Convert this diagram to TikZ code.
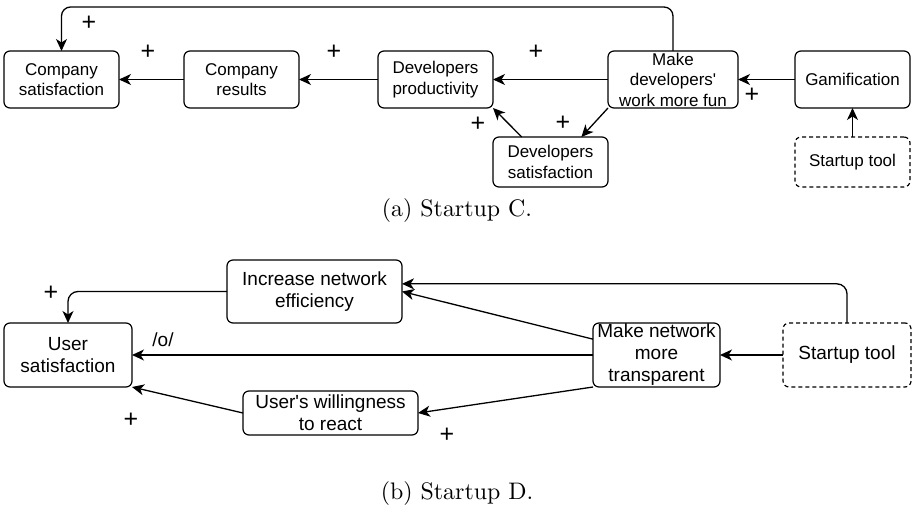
\documentclass[tikz,border=0pt]{standalone}
\usepackage{fontspec}
\newfontfamily\dio{Liberation Sans}[Ligatures=TeXOff]
\newfontfamily\capfont{lmroman10-regular.otf}
\usetikzlibrary{arrows.meta}
\begin{document}
\begin{tikzpicture}[x=1pt,y=-1pt,
  every node/.style={inner sep=0pt, outer sep=0pt},
  box/.style={draw, line width=1.2pt, rounded corners=6pt, align=center},
  boxa/.style={box, font=\dio\fontsize{17}{20.5}\selectfont},
  boxb/.style={box, font=\dio\fontsize{19}{22}\selectfont},
  tool/.style={dashed, dash pattern=on 4pt off 3pt},
  conn/.style={line width=1.3pt, -{Stealth[length=12pt,width=11pt,inset=3.5pt]}},
  sign/.style={font=\dio\fontsize{25}{25}\selectfont},
  lbl/.style={font=\dio\fontsize{19}{22}\selectfont},
  capt/.style={font=\capfont\fontsize{23.9}{28}\selectfont}]
\useasboundingbox (0,0) rectangle (912,508);

% ---- (a) Startup C ----
\node[boxa, minimum width=115, minimum height=57] (cs) at (61.5,79.5) {Company\\satisfaction};
\node[boxa, minimum width=115, minimum height=57] (cr) at (241.5,79.5) {Company\\results};
\node[boxa, minimum width=115, minimum height=57] (dp) at (435.5,79.5) {Developers\\productivity};
\node[boxa, minimum width=130, minimum height=57] (mk) at (673,79.5) {Make\\developers'\\work more fun};
\node[boxa, minimum width=115, minimum height=57] (gm) at (852.5,79.5) {Gamification};
\node[boxa, tool, minimum width=115, minimum height=50] (st1) at (852.5,162) {Startup tool};
\node[boxa, minimum width=115, minimum height=50] (ds) at (550.5,162) {Developers\\satisfaction};
\coordinate (topa) at (0,7);

\draw[conn, rounded corners=9pt] (mk.north) -- (mk.north |- topa) -| (cs.north);
\draw[conn] (cr.west) -- (cs.east);
\draw[conn] (dp.west) -- (cr.east);
\draw[conn] (mk.west) -- (dp.east);
\draw[conn] (gm.west) -- (mk.east);
\draw[conn] (st1.north) -- (gm.south);
\draw[conn] (mk.south west) -- (ds.39);
\draw[conn] (ds.139) -- (dp.south east);

\node[sign] (pa1) at (89,23) {+};
\node[sign] (pa2) at (148,52) {+};
\node[sign] (pa3) at (334,52) {+};
\node[sign] (pa4) at (536,52) {+};
\node[sign] (pa5) at (752,95) {+};
\node[sign] (pa6) at (478,124) {+};
\node[sign] (pa7) at (563,123) {+};

\node[capt] (capa) at (457,211) {(a) Startup C.};

% ---- (b) Startup D ----
\node[boxb, minimum width=175, minimum height=63] (inc) at (314.5,291.5) {Increase network\\efficiency};
\node[boxb, minimum width=128, minimum height=64] (us) at (68,355) {User\\satisfaction};
\node[boxb, minimum width=175, minimum height=44] (wil) at (330.5,413) {User's willingness\\to react};
\node[boxb, minimum width=127, minimum height=64] (mn) at (656.5,355) {Make network\\more\\transparent};
\node[boxb, tool, minimum width=128, minimum height=64] (st2) at (847,355) {Startup tool};

\draw[conn, rounded corners=10pt] (inc.west) -| (us.north);
\draw[conn] (mn.west) -- (us.east);
\draw[conn] (wil.west) -- (us.south east);
\draw[conn] (mn.south west) -- (wil.east);
\draw[conn] (mn.166) -- (inc.east);
\draw[conn, rounded corners=10pt] (st2.north) |- (inc.5);
\draw[conn] (st2.west) -- (mn.east);

\node[sign] (pb1) at (51,293) {+};
\node[lbl] (pb2) at (163,340) {/o/};
\node[sign] (pb3) at (131,420) {+};
\node[sign] (pb4) at (447,435) {+};

\node[capt] (capb) at (457,494) {(b) Startup D.};
\end{tikzpicture}
\end{document}
